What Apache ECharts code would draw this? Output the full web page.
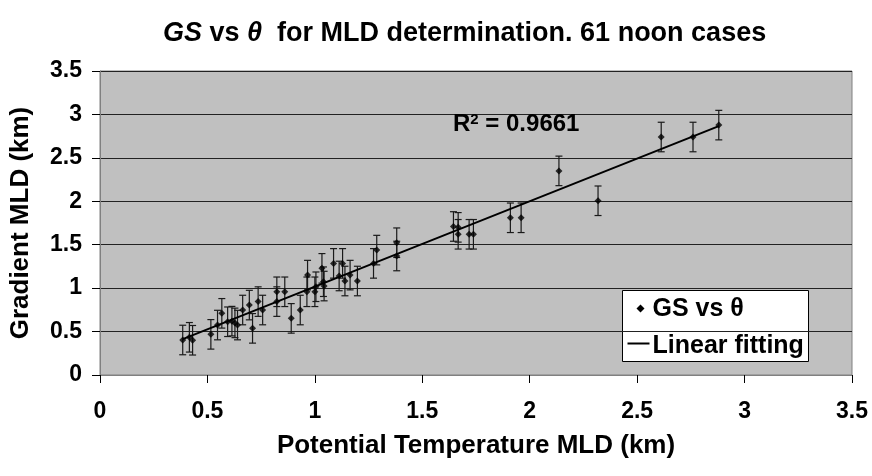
<!DOCTYPE html>
<html>
<head>
<meta charset="utf-8">
<script src="https://cdn.jsdelivr.net/npm/echarts@6/dist/echarts.min.js"></script>
<style>html,body{margin:0;padding:0;background:#fff}#c{width:872px;height:476px}</style>
</head>
<body>
<div id="c"></div>
<script>
// Data
var thetaMLD = [0.385,0.416,0.431,0.516,0.547,0.567,0.594,0.614,0.628,0.64,0.664,0.695,0.71,0.736,0.757,0.823,0.823,0.86,0.89,0.932,0.963,0.966,1.0,1.005,1.033,1.04,1.043,1.087,1.113,1.129,1.14,1.164,1.198,1.273,1.288,1.381,1.381,1.645,1.667,1.667,1.718,1.738,1.91,1.96,2.136,2.318,2.612,2.76,2.88];
var gsMLD = [0.403,0.434,0.40,0.468,0.575,0.71,0.613,0.62,0.60,0.575,0.748,0.805,0.537,0.845,0.748,0.958,0.845,0.958,0.652,0.748,0.958,1.15,0.958,1.016,1.228,1.074,1.024,1.285,1.14,1.285,1.082,1.15,1.082,1.285,1.438,1.37,1.523,1.71,1.70,1.62,1.62,1.62,1.81,1.81,2.35,2.006,2.74,2.74,2.877];
var errHalf = [0.17,0.17,0.17,0.17,0.17,0.17,0.17,0.17,0.17,0.17,0.17,0.17,0.17,0.17,0.17,0.17,0.17,0.17,0.17,0.17,0.17,0.17,0.17,0.17,0.17,0.17,0.17,0.17,0.17,0.17,0.17,0.17,0.17,0.17,0.17,0.17,0.17,0.17,0.17,0.17,0.17,0.17,0.17,0.17,0.17,0.17,0.17,0.17,0.17];
var fitX = [0.385, 2.88];
var fitY = [0.413, 2.866];
var axisTicks = [0, 0.5, 1, 1.5, 2, 2.5, 3, 3.5];
var legendNames = ['GS vs θ', 'Linear fitting'];

var FONT = '"Liberation Sans", Arial, sans-serif';
var pts = thetaMLD.map(function(x, i){ return [x, gsMLD[i]]; });
var errs = thetaMLD.map(function(x, i){ return [x, gsMLD[i] - errHalf[i], gsMLD[i] + errHalf[i]]; });
var fit = fitX.map(function(x, i){ return [x, fitY[i]]; });

var chart = echarts.init(document.getElementById('c'), null, {renderer: 'canvas'});
var axisCommon = {
  type: 'value', min: axisTicks[0], max: axisTicks[axisTicks.length-1], interval: 0.5,
  axisLine: {show: true, lineStyle: {color: '#808080', width: 1}},
  axisTick: {show: true, length: 8, lineStyle: {color: '#000', width: 1}},
  axisLabel: {color: '#000', fontFamily: FONT, fontWeight: 'bold', fontSize: 23,
    formatter: function(v){ return String(v); }},
  nameTextStyle: {color: '#000', fontFamily: FONT, fontWeight: 'bold', fontSize: 26}
};
chart.setOption({
  animation: false,
  backgroundColor: '#fff',
  title: {
    text: '{i|GS} vs {i|θ}  for MLD determination. 61 noon cases',
    left: 158, top: 15,
    textStyle: {color: '#000', fontFamily: FONT, fontWeight: 'bold', fontSize: 27,
      rich: {i: {fontStyle: 'italic', fontWeight: 'bold', fontSize: 27, fontFamily: FONT, color: '#000'}}}
  },
  grid: {left: 99, right: 20, top: 71, bottom: 101, show: true, backgroundColor: '#C0C0C0', borderColor: '#808080', borderWidth: 1},
  xAxis: Object.assign({}, axisCommon, {
    name: 'Potential Temperature MLD (km)', nameLocation: 'middle', nameGap: 58,
    splitLine: {show: false},
    axisLabel: Object.assign({}, axisCommon.axisLabel, {margin: 25})
  }),
  yAxis: Object.assign({}, axisCommon, {
    name: 'Gradient MLD (km)', nameLocation: 'middle', nameGap: 66,
    splitLine: {show: true, lineStyle: {color: '#222', width: 1}},
    axisLabel: Object.assign({}, axisCommon.axisLabel, {margin: 18})
  }),
  graphic: [
    {
      type: 'text', left: 453, top: 112, z: 10,
      style: {
        text: 'R{sup|2} = 0.9661', fill: '#000', font: 'bold 24px ' + FONT,
        rich: {sup: {fontSize: 15, fontWeight: 'bold', fontFamily: FONT, verticalAlign: 'top', padding: [0, 0, 10, 0]}}
      }
    },
    {
      type: 'group', left: 622, top: 290, z: 10,
      children: [
        {type: 'rect', shape: {x: 0, y: 0, width: 186, height: 71}, style: {fill: '#fff', stroke: '#000', lineWidth: 1}},
        {type: 'polygon', shape: {points: [[18, 14], [22, 18], [18, 22], [14, 18]]}, style: {fill: '#000'}},
        {type: 'text', style: {x: 30, y: 31, text: legendNames[0], fill: '#000', font: 'bold 25px ' + FONT, verticalAlign: 'bottom'}},
        {type: 'line', shape: {x1: 5, y1: 53, x2: 27, y2: 53}, style: {stroke: '#000', lineWidth: 2}},
        {type: 'text', style: {x: 30, y: 68, text: legendNames[1], fill: '#000', font: 'bold 25px ' + FONT, verticalAlign: 'bottom'}}
      ]
    }
  ],
  series: [
    {
      type: 'custom', name: 'err', silent: true, z: 3,
      data: errs,
      renderItem: function(params, api){
        var lo = api.coord([api.value(0), api.value(1)]);
        var hi = api.coord([api.value(0), api.value(2)]);
        var c = 3.5;
        var st = {stroke: '#1a1a1a', lineWidth: 1.2};
        return {type: 'group', children: [
          {type: 'line', shape: {x1: lo[0], y1: lo[1], x2: hi[0], y2: hi[1]}, style: st},
          {type: 'line', shape: {x1: lo[0]-c, y1: lo[1], x2: lo[0]+c, y2: lo[1]}, style: st},
          {type: 'line', shape: {x1: hi[0]-c, y1: hi[1], x2: hi[0]+c, y2: hi[1]}, style: st}
        ]};
      },
      encode: {x: 0, y: [1, 2]}
    },
    {
      type: 'line', name: legendNames[1], data: fit, showSymbol: false, symbol: 'none', z: 4,
      lineStyle: {color: '#000', width: 2}, itemStyle: {color: '#000'}
    },
    {
      type: 'scatter', name: legendNames[0], data: pts, symbol: 'diamond', symbolSize: 7, z: 5,
      itemStyle: {color: '#000'}
    }
  ]
});
</script>
</body>
</html>
